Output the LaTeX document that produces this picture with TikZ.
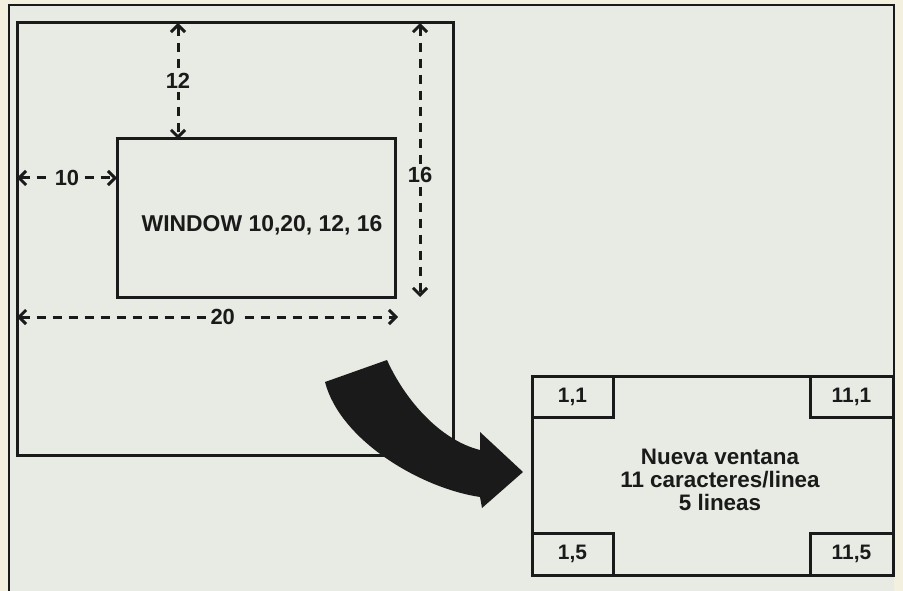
\documentclass[tikz,border=0pt]{standalone}
\usepackage{fontspec}
\setmainfont{Liberation Sans}
\usetikzlibrary{arrows.meta,fit}
\definecolor{paper}{HTML}{F3F0E0}
\definecolor{panel}{HTML}{E8EBE4}
\definecolor{ink}{HTML}{1A1A1A}
\tikzset{
  box/.style={draw=ink, line width=3bp, inner sep=0pt},
  dim/.style={draw=ink, line width=3bp, dash pattern=on 9bp off 7bp,
    {Straight Barb[length=7bp,width=14bp]}-{Straight Barb[length=7bp,width=14bp]}},
  lbl/.style={font=\bfseries\fontsize{22}{24}\selectfont, text=ink, fill=panel, inner sep=3bp},
  txt/.style={font=\bfseries\fontsize{22.5}{23}\selectfont, text=ink, align=center, inner sep=0pt},
  corner/.style={font=\bfseries\fontsize{21}{22}\selectfont, text=ink},
}
\begin{document}
\begin{tikzpicture}[x=1bp,y=-1bp]
\fill[paper] (0,0) rectangle (903,591);
\useasboundingbox (0,0) rectangle (903,591);
\fill[panel] (9,5) rectangle (894,591);
\draw[ink, line width=2bp] (9,591) -- (9,5) -- (894,5) -- (894,376);

% screen and window
\node[box, fit={(17,23) (453,455)}] (screen) {};
\node[box, fit={(117,139) (395,297)}] (window) {};
\node[txt, font=\bfseries\fontsize{23}{24}\selectfont] (wtext) at (262,225) {WINDOW 10,20, 12, 16};

% dimension arrows
\coordinate (t12) at (178,23);  \coordinate (b12) at (178,139);
\coordinate (l10) at (17,178);  \coordinate (r10) at (117,178);
\coordinate (t16) at (420,23);  \coordinate (b16) at (420,297);
\coordinate (l20) at (17,317);  \coordinate (r20) at (398,317);
\draw[dim] (t12) -- node[lbl] {12} (b12);
\draw[dim] (l10) -- node[lbl] {10} (r10);
\draw[dim] (t16) -- node[lbl, pos=0.555] {16} (b16);
\draw[dim] (l20) -- node[lbl, pos=0.54] {20} (r20);

% new window
\node[box, fit={(532,376) (893,575)}] (newwin) {};
\node[box, fit={(532,376) (613,417)}] (c11) {};
\node[box, fit={(810,376) (893,417)}] (c111) {};
\node[box, fit={(532,533) (613,575)}] (c15) {};
\node[box, fit={(810,533) (893,575)}] (c115) {};
\node[corner] at (c11) {1,1};
\node[corner] at (c111) {11,1};
\node[corner] at (c15) {1,5};
\node[corner] at (c115) {11,5};
\node[txt] (ntext) at (720,480) {Nueva ventana\\11 caracteres/linea\\5 lineas};

% big curved arrow
\fill[ink] (325,382) -- (387,360) .. controls (405,400) and (440,440) .. (480,450)
  -- (480,432) -- (523,472) -- (482,508) -- (480,497)
  .. controls (420,488) and (340,440) .. (325,382) -- cycle;
\end{tikzpicture}
\end{document}
